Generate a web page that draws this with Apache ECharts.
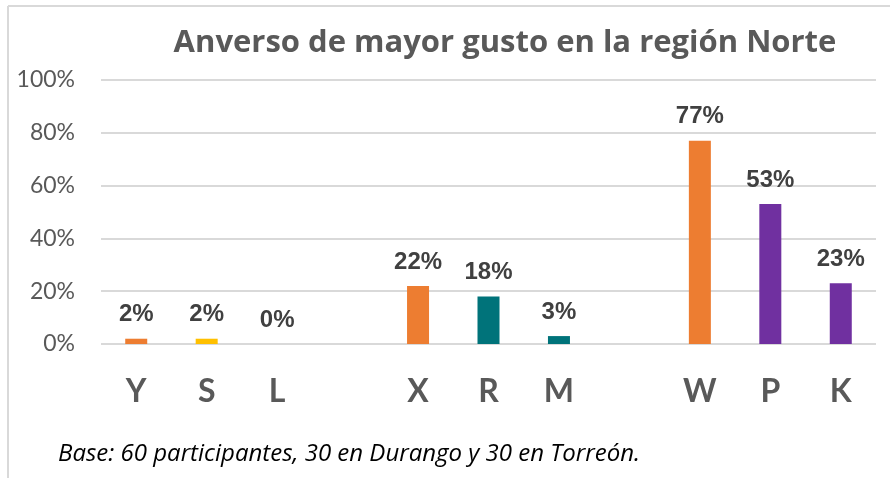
<!DOCTYPE html>
<html>
<head>
<meta charset="utf-8">
<script src="https://cdn.jsdelivr.net/npm/echarts@6/dist/echarts.min.js"></script>
<style>
html,body{margin:0;padding:0;background:#fff;}
#chart{width:890px;height:478px;}
</style>
</head>
<body>
<div id="chart"></div>
<script>
// categories, with blank slots between the three groups
var categories = ['Y', 'S', 'L', '', 'X', 'R', 'M', '', 'W', 'P', 'K'];
var values = [2, 2, 0, null, 22, 18, 3, null, 77, 53, 23];
var barColors = ['#ED7D31', '#FFC000', '#A5A5A5', '#fff', '#ED7D31', '#00737A', '#00737A', '#fff', '#ED7D31', '#7030A0', '#7030A0'];
var yTicks = [0, 20, 40, 60, 80, 100];

var chart = echarts.init(document.getElementById('chart'));
var option = {
    animation: false,
    title: {
        text: 'Anverso de mayor gusto en la región Norte',
        left: 500,
        top: 23,
        textAlign: 'center',
        textStyle: {
            fontFamily: 'Open Sans',
            fontWeight: 'bold',
            fontSize: 31,
            color: '#595959'
        }
    },
    grid: {
        left: 101,
        right: 14,
        top: 80,
        bottom: 134
    },
    xAxis: {
        type: 'category',
        data: categories,
        axisLine: {show: false},
        axisTick: {show: false},
        axisLabel: {
            margin: 32,
            fontFamily: 'Lato',
            fontWeight: 'bold',
            fontSize: 32,
            color: '#595959'
        }
    },
    yAxis: {
        type: 'value',
        min: yTicks[0],
        max: yTicks[yTicks.length - 1],
        interval: 20,
        axisLine: {show: false},
        axisTick: {show: false},
        axisLabel: {
            margin: 26,
            fontFamily: 'Lato',
            fontSize: 23,
            color: '#595959',
            formatter: '{value}%'
        },
        splitLine: {
            lineStyle: {color: '#d9d9d9', width: 2}
        }
    },
    series: [{
        type: 'bar',
        barWidth: 22,
        data: values.map(function (v, i) {
            return {value: v, itemStyle: {color: barColors[i]}};
        }),
        label: {
            show: true,
            position: 'top',
            distance: 12,
            fontFamily: 'Liberation Sans',
            fontWeight: 'bold',
            fontSize: 24,
            color: '#404040',
            formatter: function (p) {
                return p.value == null ? '' : p.value + '%';
            }
        }
    }],
    graphic: [
        {type: 'line', shape: {x1: 8, y1: 6, x2: 890, y2: 6}, style: {stroke: '#d9d9d9', lineWidth: 2}},
        {type: 'line', shape: {x1: 8, y1: 6, x2: 8, y2: 478}, style: {stroke: '#d9d9d9', lineWidth: 2}},
        {
            type: 'text',
            left: 58,
            top: 442,
            style: {
                text: 'Base: 60 participantes, 30 en Durango y 30 en Torreón.',
                fontFamily: 'Open Sans',
                fontStyle: 'italic',
                fontSize: 24,
                fill: '#000'
            }
        }
    ]
};
chart.setOption(option);
</script>
</body>
</html>
